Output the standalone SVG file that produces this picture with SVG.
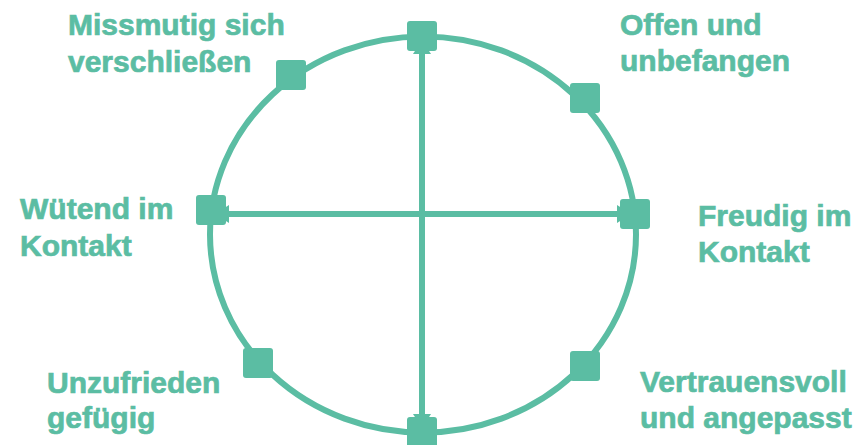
<svg xmlns="http://www.w3.org/2000/svg" width="862" height="445" viewBox="0 0 862 445">
  <defs>
    <style>
      .ring { fill: none; stroke: #5bbda3; stroke-width: 6; }
      .axis { stroke: #5bbda3; stroke-width: 6; fill: none; }
      .sq { fill: #5bbda3; }
      .lbl { font-family: "Liberation Sans", Arial, sans-serif; font-weight: bold; font-size: 30px; fill: #5bbda3; stroke: #5bbda3; stroke-width: 0.7; }
    </style>
    <marker id="arr" markerUnits="userSpaceOnUse" markerWidth="16" markerHeight="20" refX="14" refY="9" orient="auto-start-reverse" viewBox="0 0 16 20">
      <path d="M0,0 L14,9 L0,18 z" fill="#5bbda3"/>
    </marker>
  </defs>
  <rect width="862" height="445" fill="#ffffff"/>
  <ellipse class="ring" cx="423" cy="234.5" rx="213" ry="198"/>
  <g id="connectors">
    <line class="axis" x1="422" y1="428" x2="422" y2="40" marker-start="url(#arr)" marker-end="url(#arr)"/>
    <line class="axis" x1="631" y1="214" x2="215" y2="214" marker-start="url(#arr)" marker-end="url(#arr)"/>
  </g>
  <g id="n-top"><rect class="sq" x="407" y="21" width="30" height="30" rx="3"/></g>
  <g id="n-bottom"><rect class="sq" x="407" y="417" width="30" height="30" rx="3"/></g>
  <g id="n-left"><rect class="sq" x="196" y="195" width="30" height="30" rx="3"/></g>
  <g id="n-right"><rect class="sq" x="620" y="199" width="30" height="30" rx="3"/></g>
  <g id="n-missmutig">
    <rect class="sq" x="276" y="60" width="30" height="30" rx="3"/>
    <text class="lbl" x="68" y="35">Missmutig sich</text>
    <text class="lbl" x="68" y="72">verschließen</text>
  </g>
  <g id="n-offen">
    <rect class="sq" x="570" y="83" width="30" height="30" rx="3"/>
    <text class="lbl" x="620" y="35">Offen und</text>
    <text class="lbl" x="620" y="71">unbefangen</text>
  </g>
  <g id="n-wuetend">
    <text class="lbl" x="20" y="219">Wütend im</text>
    <text class="lbl" x="20" y="256">Kontakt</text>
  </g>
  <g id="n-freudig">
    <text class="lbl" x="698" y="226">Freudig im</text>
    <text class="lbl" x="698" y="262">Kontakt</text>
  </g>
  <g id="n-unzufrieden">
    <rect class="sq" x="243" y="348" width="30" height="30" rx="3"/>
    <text class="lbl" x="47" y="393">Unzufrieden</text>
    <text class="lbl" x="47" y="428">gefügig</text>
  </g>
  <g id="n-vertrauensvoll">
    <rect class="sq" x="570" y="351" width="30" height="30" rx="3"/>
    <text class="lbl" x="640" y="392">Vertrauensvoll</text>
    <text class="lbl" x="640" y="428">und angepasst</text>
  </g>
</svg>
